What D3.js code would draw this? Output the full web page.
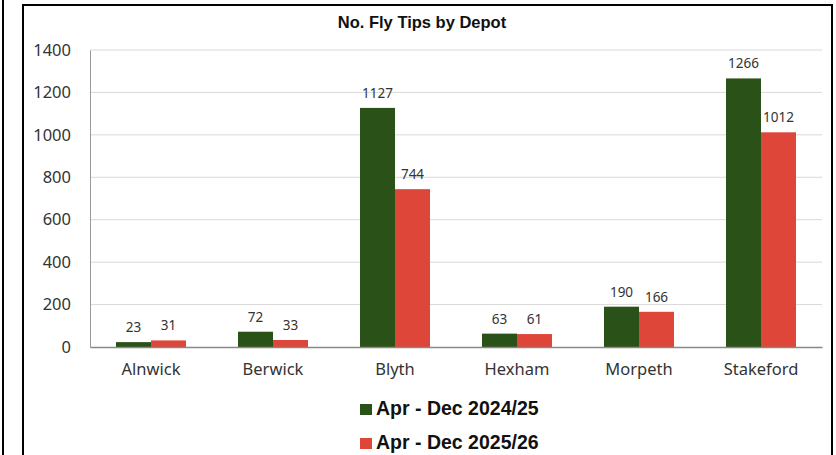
<!DOCTYPE html>
<html>
<head>
<meta charset="utf-8">
<script src="https://cdn.jsdelivr.net/npm/d3@7"></script>
<style>
  html, body { margin: 0; padding: 0; background: #fff; }
  svg { display: block; }
</style>
</head>
<body>
<div id="chart"></div>
<script>
// chart values
const depots = ["Alnwick", "Berwick", "Blyth", "Hexham", "Morpeth", "Stakeford"];
const seriesNames = ["Apr - Dec 2024/25", "Apr - Dec 2025/26"];
const tips2425 = [23, 72, 1127, 63, 190, 1266];
const tips2526 = [31, 33, 744, 61, 166, 1012];
const yTicks = [0, 200, 400, 600, 800, 1000, 1200, 1400];

{
  const W = 836, H = 455;
  const colors = ["#2a5117", "#de463a"];
  const plot = { left: 90, right: 822, top: 50, bottom: 347 };

  const svg = d3.select("#chart").append("svg")
    .attr("width", W).attr("height", H);

  // panel borders
  svg.append("line")
    .attr("x1", 3).attr("x2", 3).attr("y1", 0).attr("y2", H)
    .attr("stroke", "#000").attr("stroke-width", 2);
  svg.append("rect")
    .attr("x", 23).attr("y", 5).attr("width", 809).attr("height", H + 10)
    .attr("fill", "none").attr("stroke", "#000").attr("stroke-width", 2);

  svg.append("text")
    .attr("x", 422).attr("y", 28)
    .attr("text-anchor", "middle")
    .style("font-family", "Liberation Sans, Arial, sans-serif")
    .style("font-weight", "bold").style("font-size", "16.5px")
    .attr("fill", "#111")
    .text("No. Fly Tips by Depot");

  const x0 = d3.scaleBand().domain(depots)
    .range([plot.left, plot.right]).paddingInner(0).paddingOuter(0);
  const x1 = d3.scaleBand().domain([0, 1]).range([0, 70]);
  const y = d3.scaleLinear().domain([0, 1400]).range([plot.bottom, plot.top]);

  // gridlines
  svg.append("g").selectAll("line")
    .data(yTicks.filter(d => d > 0))
    .enter().append("line")
      .attr("x1", plot.left).attr("x2", plot.right)
      .attr("y1", d => y(d)).attr("y2", d => y(d))
      .attr("stroke", "#d9d9d9").attr("stroke-width", 1);

  // y axis
  const yAxis = svg.append("g")
    .attr("transform", `translate(${plot.left},0)`)
    .call(d3.axisLeft(y).tickValues(yTicks).tickFormat(d3.format("d"))
      .tickSize(0).tickPadding(19));
  yAxis.select(".domain").attr("stroke", "#999");
  yAxis.selectAll("text")
    .style("font-family", "Noto Sans, sans-serif").style("font-size", "16.5px")
    .attr("fill", "#333");

  // bars
  const rows = depots.map((d, i) => ({ depot: d, vals: [tips2425[i], tips2526[i]] }));
  const groups = svg.append("g").selectAll("g")
    .data(rows)
    .enter().append("g")
      .attr("transform", d => `translate(${x0(d.depot) + x0.bandwidth() / 2 - 35},0)`);

  groups.selectAll("rect")
    .data(d => d.vals.map((v, k) => ({ v, k })))
    .enter().append("rect")
      .attr("x", d => x1(d.k))
      .attr("width", x1.bandwidth())
      .attr("y", d => y(d.v))
      .attr("height", d => y(0) - y(d.v))
      .attr("fill", d => colors[d.k]);

  groups.selectAll("text")
    .data(d => d.vals.map((v, k) => ({ v, k })))
    .enter().append("text")
      .attr("x", d => x1(d.k) + x1.bandwidth() / 2)
      .attr("y", d => y(d.v) - 10)
      .attr("text-anchor", "middle")
      .style("font-family", "Noto Sans, sans-serif").style("font-size", "13.5px")
      .attr("fill", "#333")
      .text(d => d.v);

  // x axis
  const xAxis = svg.append("g")
    .attr("transform", `translate(0,${plot.bottom})`)
    .call(d3.axisBottom(x0).tickSize(0).tickPadding(16));
  xAxis.select(".domain").attr("stroke", "#888").attr("stroke-width", 1.5);
  xAxis.selectAll("text")
    .style("font-family", "Noto Sans, sans-serif").style("font-size", "16.5px")
    .attr("fill", "#333");

  // legend
  const legend = svg.append("g").selectAll("g")
    .data(seriesNames)
    .enter().append("g")
      .attr("transform", (d, i) => `translate(360,${404 + i * 34})`);
  legend.append("rect")
    .attr("width", 12).attr("height", 11)
    .attr("fill", (d, i) => colors[i]);
  legend.append("text")
    .attr("x", 16).attr("y", 11)
    .style("font-family", "Liberation Sans, Arial, sans-serif")
    .style("font-weight", "bold").style("font-size", "19.5px")
    .attr("fill", "#111")
    .text(d => d);
}
</script>
</body>
</html>
